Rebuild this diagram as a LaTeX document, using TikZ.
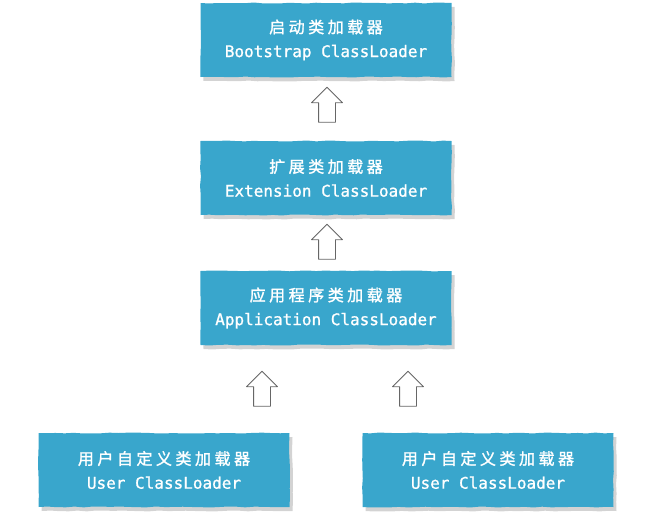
\documentclass[tikz,border=0pt]{standalone}
\usepackage{fontspec}
\newfontfamily\cjk[LetterSpace=22,FakeBold=1.5]{Noto Sans CJK SC}
\newfontfamily\hand[FakeBold=1]{DejaVu Sans Mono}
\usepackage{tikz}
\usetikzlibrary{shapes.arrows}
\usetikzlibrary{shadows}
\usetikzlibrary{decorations.pathmorphing}
\definecolor{loaderblue}{RGB}{57,166,204}
\begin{document}
\begin{tikzpicture}[x=1pt,y=-1pt,
loader/.style={fill=loaderblue, text=white, minimum width=251pt,
minimum height=74pt, align=center, inner sep=0pt,
font=\fontsize{16}{24}\selectfont,
decorate, decoration={random steps, segment length=9pt, amplitude=.5pt},
drop shadow={shadow xshift=3pt, shadow yshift=-4pt, opacity=.35}},
uparrow/.style={single arrow, draw=black!60, fill=white, line width=.9pt,
rotate=90, minimum height=35pt, minimum width=30pt, inner xsep=0pt,
inner ysep=8pt, single arrow head extend=7pt, line join=round}]
\useasboundingbox (0,0) rectangle (651,519);
\node[loader] (l0)  at (326,40)  {{\cjk 启动类加载器}\\{\hand Bootstrap ClassLoader}};
\node[loader] (l1)  at (326,178) {{\cjk 扩展类加载器}\\{\hand Extension ClassLoader}};
\node[loader] (l2)  at (326,308) {{\cjk 应用程序类加载器}\\{\hand Application ClassLoader}};
\node[loader] (l31) at (164,470) {{\cjk 用户自定义类加载器}\\{\hand User ClassLoader}};
\node[loader] (l32) at (488,470) {{\cjk 用户自定义类加载器}\\{\hand User ClassLoader}};
\node[uparrow] (u1)  at (327,109) {};
\node[uparrow] (u2)  at (327,246) {};
\node[uparrow] (u31) at (262,393) {};
\node[uparrow] (u32) at (408,393) {};
\end{tikzpicture}
\end{document}
